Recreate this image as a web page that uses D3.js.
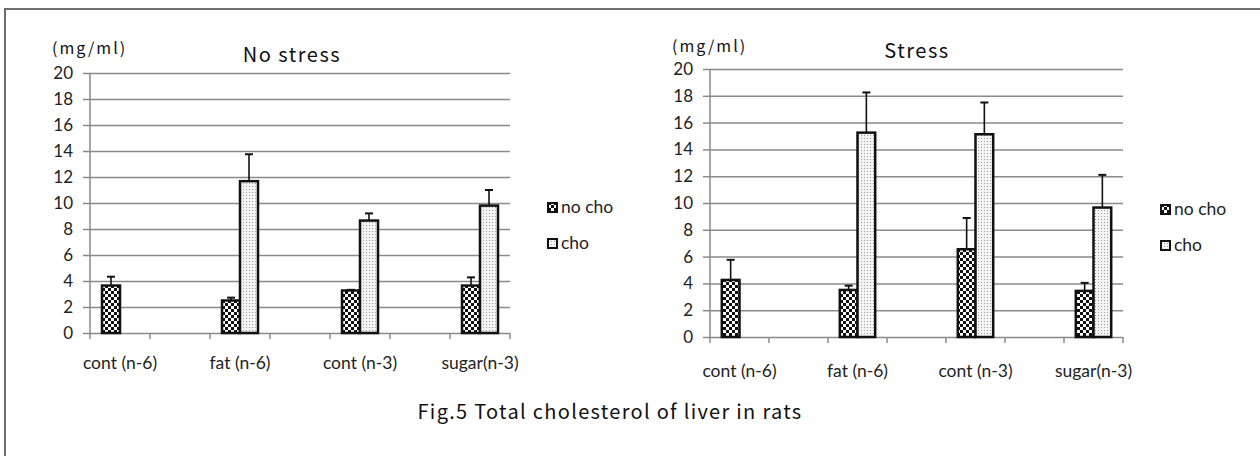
<!DOCTYPE html>
<meta charset="utf-8">
<head>
	<title>Fig.5 Total cholesterol of liver in rats</title>
	<script src="https://cdn.jsdelivr.net/npm/d3@7"></script>
</head>
<style type="text/css">
	body {
		margin: 0;
		background: #fff;
	}
	svg {
		display: block;
	}
	.grid line {
		stroke: #8a8a8a;
		stroke-width: 1.5px;
	}
	.grid .domain {
		display: none;
	}
	.tick text {
		font-family: Lato, "Open Sans", sans-serif;
		font-size: 17px;
		fill: #222;
	}
	.jp {
		font-family: "Noto Sans CJK JP", sans-serif;
		fill: #111;
	}
</style>
<body>
<script>
	// categories on the x axis (an empty slot sits between each pair)
	var categories = ["cont (n-6)", "fat (n-6)", "cont (n-3)", "sugar(n-3)"];
	var series = ["no cho", "cho"];
	var yTicks = [0, 2, 4, 6, 8, 10, 12, 14, 16, 18, 20];

	// No stress panel
	var noStressNoCho    = [3.65, 2.5, 3.27, 3.65];
	var noStressNoChoErr = [0.68, 0.22, 0.05, 0.63];
	var noStressCho      = [null, 11.68, 8.65, 9.8];
	var noStressChoErr   = [null, 2.07, 0.55, 1.2];

	// Stress panel
	var stressNoCho    = [4.26, 3.51, 6.55, 3.44];
	var stressNoChoErr = [1.5, 0.32, 2.33, 0.6];
	var stressCho      = [null, 15.25, 15.13, 9.66];
	var stressChoErr   = [null, 3.0, 2.37, 2.44];

	var width = 1260, height = 456;

	var svg = d3.select("body").append("svg")
		.attr("width", width)
		.attr("height", height);

	var defs = svg.append("defs");

	// checker pattern for "no cho"
	var checker = defs.append("pattern")
		.attr("id", "checker")
		.attr("width", 6).attr("height", 6)
		.attr("patternUnits", "userSpaceOnUse");
	checker.append("rect").attr("width", 6).attr("height", 6).attr("fill", "#fff");
	checker.append("rect").attr("width", 3).attr("height", 3).attr("fill", "#111");
	checker.append("rect").attr("x", 3).attr("y", 3).attr("width", 3).attr("height", 3).attr("fill", "#111");

	// fine dots for "cho"
	var dots = defs.append("pattern")
		.attr("id", "dots")
		.attr("width", 3).attr("height", 3)
		.attr("patternUnits", "userSpaceOnUse");
	dots.append("rect").attr("width", 3).attr("height", 3).attr("fill", "#f4f4f4");
	dots.append("rect").attr("width", 1).attr("height", 1).attr("fill", "#9a9a9a");

	var fills = {"no cho": "url(#checker)", "cho": "url(#dots)"};

	// outer frame (right and bottom sides fall outside the picture)
	svg.append("rect")
		.attr("x", 5).attr("y", 9)
		.attr("width", 1270).attr("height", 470)
		.attr("fill", "none")
		.attr("stroke", "#6d6d6d")
		.attr("stroke-width", 2);

	function drawPanel(opt) {
		var slots = [];
		categories.forEach(function(c, i) {
			slots.push(c);
			if (i < categories.length - 1) slots.push("_gap" + i);
		});

		var x = d3.scaleBand()
			.domain(slots)
			.range([opt.x0, opt.x1]);

		var xs = d3.scaleBand()
			.domain(series)
			.range([0, x.bandwidth()])
			.paddingInner(0)
			.paddingOuter(2 / 3);

		var y = d3.scaleLinear()
			.domain([0, 20])
			.range([opt.yBottom, opt.yTop]);

		var g = svg.append("g");

		// grid
		g.append("g")
			.attr("class", "grid")
			.attr("transform", "translate(" + opt.x0 + ",0)")
			.call(d3.axisLeft(y).tickValues(yTicks).tickSize(-(opt.x1 - opt.x0)).tickFormat(""));

		// y axis
		var yAxis = g.append("g")
			.attr("class", "grid")
			.attr("transform", "translate(" + opt.x0 + ",0)")
			.call(d3.axisLeft(y).tickValues(yTicks).tickSize(7).tickSizeOuter(0).tickPadding(10));
		yAxis.append("line")
			.attr("x1", 0).attr("x2", 0)
			.attr("y1", opt.yBottom).attr("y2", opt.yTop)
			.attr("stroke", "#8a8a8a").attr("stroke-width", 1.5);

		// x axis ticks at slot borders
		var borders = slots.map(function(s) { return x(s); }).concat([opt.x1]);
		g.append("g").selectAll("line")
			.data(borders)
		 .enter().append("line")
			.attr("x1", function(d) { return d; })
			.attr("x2", function(d) { return d; })
			.attr("y1", opt.yBottom)
			.attr("y2", opt.yBottom + 6)
			.attr("stroke", "#8a8a8a")
			.attr("stroke-width", 1.5);

		g.append("g").selectAll("text")
			.data(categories)
		 .enter().append("text")
			.attr("class", "catLabel")
			.attr("x", function(d) { return x(d) + x.bandwidth() / 2; })
			.attr("y", opt.labelY)
			.attr("text-anchor", "middle")
			.style("font-family", "Lato, 'Open Sans', sans-serif")
			.style("font-size", "17.5px")
			.style("fill", "#222")
			.text(function(d) { return d; });

		// bars
		var rows = [];
		categories.forEach(function(c, i) {
			rows.push({cat: c, s: "no cho", v: opt.noCho[i], e: opt.noChoErr[i]});
			rows.push({cat: c, s: "cho", v: opt.cho[i], e: opt.choErr[i]});
		});
		rows = rows.filter(function(d) { return d.v != null; });

		var bar = g.append("g").selectAll("g")
			.data(rows)
		 .enter().append("g");

		// error bars (upward only)
		bar.append("line")
			.attr("x1", function(d) { return x(d.cat) + xs(d.s) + xs.bandwidth() / 2; })
			.attr("x2", function(d) { return x(d.cat) + xs(d.s) + xs.bandwidth() / 2; })
			.attr("y1", function(d) { return y(d.v); })
			.attr("y2", function(d) { return y(d.v + d.e); })
			.attr("stroke", "#111").attr("stroke-width", 1.6);
		bar.append("line")
			.attr("x1", function(d) { return x(d.cat) + xs(d.s) + xs.bandwidth() / 2 - 4; })
			.attr("x2", function(d) { return x(d.cat) + xs(d.s) + xs.bandwidth() / 2 + 4; })
			.attr("y1", function(d) { return y(d.v + d.e); })
			.attr("y2", function(d) { return y(d.v + d.e); })
			.attr("stroke", "#111").attr("stroke-width", 2);

		bar.append("rect")
			.attr("x", function(d) { return x(d.cat) + xs(d.s); })
			.attr("y", function(d) { return y(d.v); })
			.attr("width", xs.bandwidth())
			.attr("height", function(d) { return y(0) - y(d.v); })
			.attr("fill", function(d) { return fills[d.s]; })
			.attr("stroke", "#111")
			.attr("stroke-width", 2.5);

		// unit + title
		g.append("text")
			.attr("class", "jp")
			.attr("x", opt.unitX)
			.attr("y", opt.unitY)
			.style("font-size", "16px")
			.style("letter-spacing", "2px")
			.text("(mg/ml)");
		g.append("text")
			.attr("class", "jp")
			.attr("x", opt.titleX)
			.attr("y", opt.titleY)
			.attr("text-anchor", "middle")
			.style("font-size", "20px")
			.style("letter-spacing", "1.5px")
			.text(opt.title);

		// legend
		var leg = g.append("g").selectAll("g")
			.data(series)
		 .enter().append("g")
			.attr("transform", function(d, i) { return "translate(" + opt.legX + "," + (opt.legY + i * 36) + ")"; });
		leg.append("rect")
			.attr("x", 0).attr("y", -5)
			.attr("width", 9).attr("height", 9)
			.attr("fill", function(d) { return fills[d]; })
			.attr("stroke", "#111")
			.attr("stroke-width", 2);
		leg.append("text")
			.attr("x", 13)
			.attr("y", 5)
			.style("font-family", "Lato, 'Open Sans', sans-serif")
			.style("font-size", "17.5px")
			.style("fill", "#222")
			.text(function(d) { return d; });
	}

	drawPanel({
		title: "No stress",
		x0: 90, x1: 510, yBottom: 333, yTop: 73, labelY: 369,
		noCho: noStressNoCho, noChoErr: noStressNoChoErr,
		cho: noStressCho, choErr: noStressChoErr,
		unitX: 52, unitY: 54, titleX: 292, titleY: 62,
		legX: 548, legY: 208
	});

	drawPanel({
		title: "Stress",
		x0: 710, x1: 1123, yBottom: 337, yTop: 69, labelY: 377,
		noCho: stressNoCho, noChoErr: stressNoChoErr,
		cho: stressCho, choErr: stressChoErr,
		unitX: 672, unitY: 52, titleX: 917, titleY: 58,
		legX: 1161, legY: 210
	});

	svg.append("text")
		.attr("class", "jp")
		.attr("x", 610)
		.attr("y", 419)
		.attr("text-anchor", "middle")
		.style("font-size", "20px")
		.style("letter-spacing", "1.3px")
		.text("Fig.5 Total cholesterol of liver in rats");
</script>
</body>
